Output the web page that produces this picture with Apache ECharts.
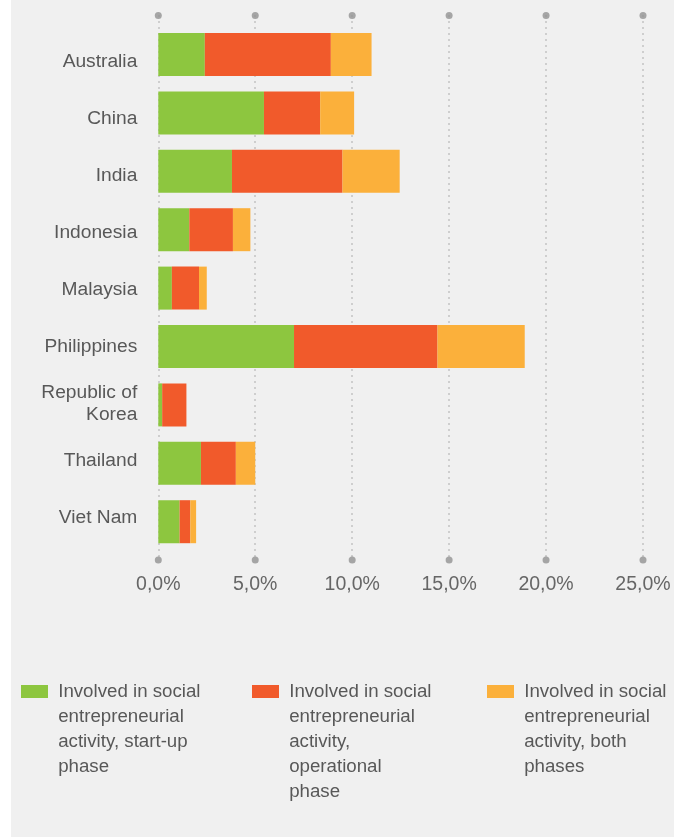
<!DOCTYPE html>
<html>
<head>
<meta charset="utf-8">
<script src="https://cdn.jsdelivr.net/npm/echarts@6/dist/echarts.min.js"></script>
<style>
  html, body { margin: 0; padding: 0; background: #ffffff; }
  #panel { position: absolute; left: 11px; top: 0; width: 663px; height: 837px; background: #f0f0f0; }
  #chart { position: absolute; left: 0; top: 0; width: 686px; height: 837px; }
</style>
</head>
<body>
<div id="panel"></div>
<div id="chart"></div>
<script>
// Share of adults involved in social entrepreneurial activity, by country (%)
const countries = ['Australia', 'China', 'India', 'Indonesia', 'Malaysia', 'Philippines', 'Republic of Korea', 'Thailand', 'Viet Nam'];
const startUp     = [2.4, 5.45, 3.8, 1.6, 0.7, 7.0, 0.2, 2.2, 1.1];
const operational = [6.5, 2.9, 5.7, 2.25, 1.4, 7.4, 1.25, 1.8, 0.55];
const bothPhases  = [2.1, 1.75, 2.95, 0.9, 0.4, 4.5, 0, 1.0, 0.3];
const xTicks = [0, 5, 10, 15, 20, 25];

const seriesNames = [
  'Involved in social\nentrepreneurial\nactivity, start-up\nphase',
  'Involved in social\nentrepreneurial\nactivity,\noperational\nphase',
  'Involved in social\nentrepreneurial\nactivity, both\nphases'
];
const colors = ['#8dc63f', '#f15a2b', '#fbb03b'];

const FONT = '"Liberation Sans", Arial, sans-serif';
const TEXT = '#585858';
const LH = 25;
const LEGEND_ICON_Y = 691.5; // vertical centre of each legend swatch

const left = 158.3, right = 43;

// One legend per series; blank lines are put above the text so that the
// swatch (centred on the text block) lines up with the first line.
function legendAt(i, x) {
  const n = seriesNames[i].split('\n').length;
  return {
    left: x,
    top: LEGEND_ICON_Y - (2 * n - 1) * LH / 2,
    padding: 0,
    orient: 'vertical',
    itemWidth: 27, itemHeight: 13, itemGap: 0,
    icon: 'rect',
    selectedMode: false,
    data: [seriesNames[i]],
    formatter: name => '\n'.repeat(n - 1) + name.split('\n').map(s => ' ' + s).join('\n'),
    textStyle: { fontFamily: FONT, fontSize: 18.7, color: TEXT, lineHeight: LH }
  };
}

const chart = echarts.init(document.getElementById('chart'), null, { renderer: 'canvas' });
chart.setOption({
  animation: false,
  backgroundColor: 'transparent',
  grid: [
    // bars
    { left: left, right: right, top: 25.3, height: 525.6 },
    // dotted guide lines with end dots
    { left: left, right: right, top: 15.5, height: 544.5 },
    // country labels
    { left: left, right: right, top: 33.5, height: 513 }
  ],
  xAxis: [
    { gridIndex: 0, type: 'value', min: 0, max: 25, interval: 5, show: false },
    {
      gridIndex: 1, type: 'value', min: 0, max: 25, interval: 5,
      axisLine: { show: false }, axisTick: { show: false },
      splitLine: { show: true, lineStyle: { color: '#959595', width: 1.5, type: [1, 5] } },
      axisLabel: {
        margin: 15, fontFamily: FONT, fontSize: 19.5, color: '#666',
        formatter: v => v.toFixed(1).replace('.', ',') + '%'
      }
    },
    { gridIndex: 2, type: 'value', min: 0, max: 25, show: false }
  ],
  yAxis: [
    { gridIndex: 0, type: 'category', data: countries, inverse: true, show: false },
    { gridIndex: 1, type: 'value', min: 0, max: 1, show: false },
    {
      gridIndex: 2, type: 'category', data: countries, inverse: true,
      axisLine: { show: false }, axisTick: { show: false },
      axisLabel: {
        margin: 21, fontFamily: FONT, fontSize: 19.2, color: TEXT, lineHeight: 22,
        formatter: v => v.replace('Republic of ', 'Republic of\n')
      }
    }
  ],
  legend: [legendAt(0, 21), legendAt(1, 252), legendAt(2, 487)],
  series: [
    {
      type: 'scatter', xAxisIndex: 1, yAxisIndex: 1, clip: false, silent: true,
      symbolSize: 7, itemStyle: { color: '#929292' }, z: 1,
      data: xTicks.flatMap(t => [[t, 0], [t, 1]])
    },
    { name: seriesNames[0], type: 'bar', stack: 'total', barWidth: 43, data: startUp, itemStyle: { color: colors[0] } },
    { name: seriesNames[1], type: 'bar', stack: 'total', barWidth: 43, data: operational, itemStyle: { color: colors[1] } },
    { name: seriesNames[2], type: 'bar', stack: 'total', barWidth: 43, data: bothPhases, itemStyle: { color: colors[2] } }
  ]
});
</script>
</body>
</html>
